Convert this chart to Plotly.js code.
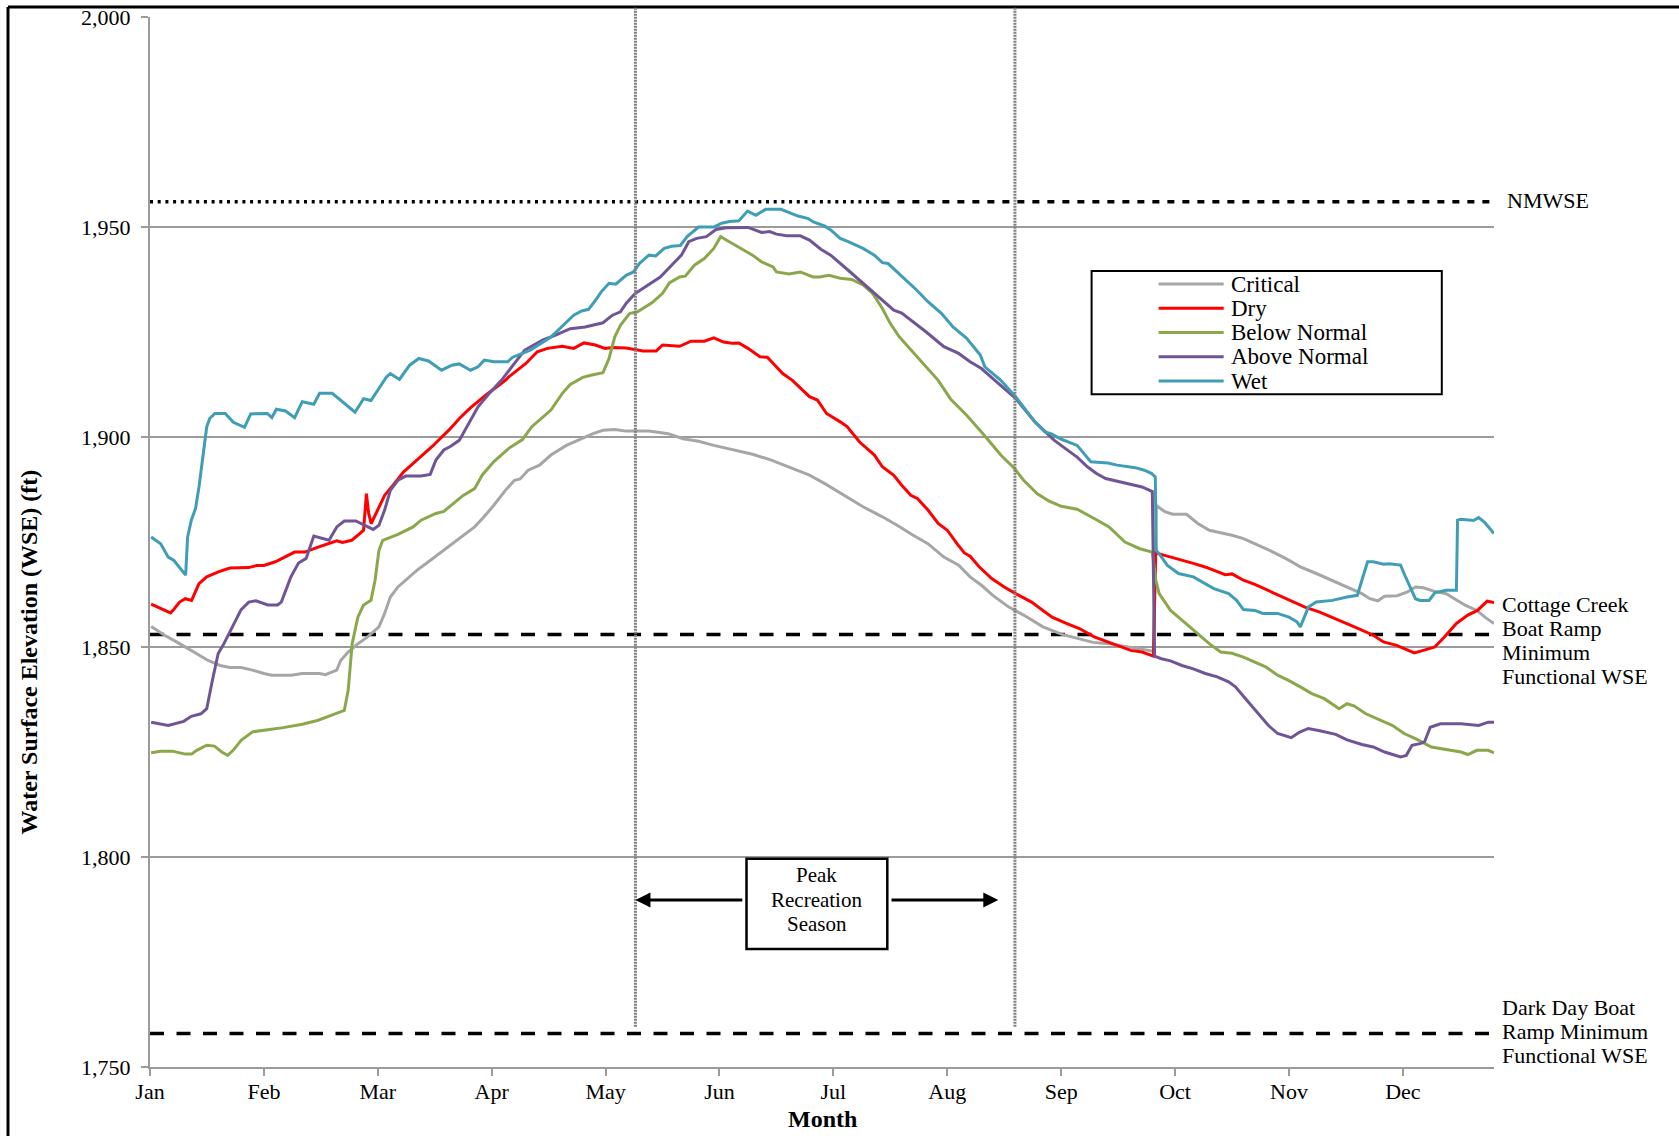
<!DOCTYPE html>
<html>
<head>
<meta charset="utf-8">
<script src="https://cdn.plot.ly/plotly-3.0.1.min.js"></script>
<style>
html,body{margin:0;padding:0;background:#ffffff;}
#chart{width:1679px;height:1136px;}
</style>
</head>
<body>
<div id="chart"></div>
<script>
// ---- Axis categories / tick labels (x = months elapsed since Jan 1) ----
const monthLabels = ['Jan','Feb','Mar','Apr','May','Jun','Jul','Aug','Sep','Oct','Nov','Dec'];
const monthTickPos = [0,1,2,3,4,5,6,7,8,9,10,11];

// ---- Series: Critical ----
const criticalX = [0.01,0.128,0.26,0.39,0.51,0.615,0.7,0.8,0.9,1.0,1.07,1.24,1.337,1.49,1.54,1.64,1.674,1.74,1.807,1.91,2.01,2.06,2.11,2.177,2.26,2.345,2.445,2.58,2.715,2.85,2.933,3.017,3.12,3.2,3.25,3.32,3.42,3.52,3.656,3.79,3.89,3.977,4.08,4.18,4.38,4.49,4.55,4.68,4.816,4.95,5.12,5.29,5.455,5.62,5.79,5.925,6.09,6.26,6.43,6.56,6.7,6.83,6.97,7.1,7.2,7.3,7.4,7.54,7.67,7.84,8.007,8.14,8.28,8.42,8.56,8.69,8.81,8.835,8.91,8.98,9.1,9.2,9.3,9.4,9.5,9.6,9.7,9.83,9.97,10.1,10.24,10.37,10.51,10.64,10.71,10.78,10.84,10.95,11.04,11.11,11.18,11.27,11.38,11.48,11.55,11.65,11.72,11.8];
const criticalY = [1854.9,1852.8,1850.8,1848.8,1846.8,1845.6,1845.1,1845.1,1844.5,1843.7,1843.3,1843.3,1843.7,1843.7,1843.4,1844.5,1846.8,1848.8,1850.4,1852.4,1854.8,1858,1861.9,1864.3,1866.3,1868.3,1870.3,1873,1875.8,1878.6,1881,1883.7,1887.3,1889.7,1890,1892.1,1893.3,1895.7,1898,1899.6,1900.8,1901.6,1901.8,1901.4,1901.4,1901,1900.8,1899.6,1899,1898,1897,1895.9,1894.5,1892.7,1890.9,1888.9,1886.1,1883.4,1881,1879,1876.6,1874.6,1871.4,1869.5,1866.7,1864.7,1862.3,1859.5,1857.6,1854.8,1853,1852,1851.1,1850.8,1850.2,1849.6,1849,1883.7,1882.2,1881.6,1881.6,1879.4,1877.8,1877.2,1876.6,1875.8,1874.6,1873,1871.1,1869.1,1867.5,1865.9,1864.3,1862.7,1861.5,1861,1862.1,1862.2,1863.1,1864.3,1864.1,1863.3,1862.7,1861.1,1859.9,1858.7,1857.1,1855.6];

// ---- Series: Dry ----
const dryX = [0.01,0.18,0.21,0.26,0.31,0.365,0.43,0.498,0.6,0.7,0.866,0.936,1.0,1.1,1.27,1.36,1.47,1.57,1.64,1.69,1.77,1.824,1.875,1.9,1.92,1.942,1.99,2.06,2.127,2.227,2.36,2.48,2.63,2.716,2.815,2.95,3.12,3.15,3.3,3.4,3.49,3.62,3.72,3.81,3.91,3.995,4.06,4.18,4.33,4.445,4.5,4.65,4.75,4.867,4.95,5.035,5.11,5.17,5.25,5.355,5.42,5.49,5.555,5.64,5.72,5.79,5.86,5.94,6.06,6.12,6.23,6.28,6.36,6.43,6.53,6.6,6.68,6.74,6.83,6.92,7.0,7.085,7.15,7.2,7.28,7.39,7.5,7.6,7.74,7.84,7.92,8.04,8.16,8.29,8.48,8.61,8.71,8.81,8.83,8.914,8.96,9.07,9.16,9.27,9.37,9.44,9.5,9.6,9.7,9.83,10.0,10.14,10.27,10.44,10.61,10.74,10.83,10.945,11.1,11.18,11.28,11.365,11.47,11.57,11.655,11.74,11.8];
const dryY = [1860.2,1858.1,1859,1860.7,1861.5,1861.1,1865.1,1866.7,1867.9,1868.8,1868.9,1869.4,1869.4,1870.3,1872.6,1872.6,1873.7,1874.6,1875.3,1874.9,1875.4,1876.6,1877.8,1886.5,1881.8,1879.4,1882.2,1886.1,1888.3,1891.7,1894.9,1897.8,1901.8,1904.4,1907,1910,1913.5,1914.3,1917.5,1920.3,1921.1,1921.6,1921.1,1922.4,1921.9,1921.1,1921.3,1921.2,1920.5,1920.5,1921.9,1921.6,1922.8,1922.8,1923.6,1922.6,1922.3,1922.4,1921.1,1919.1,1919,1917.1,1915.1,1913.5,1911.5,1909.6,1908.8,1905.6,1903.6,1902.5,1898.8,1897.6,1895.7,1892.9,1890.9,1888.5,1886.1,1885.3,1882.6,1879.4,1877.8,1874.6,1872.4,1871.6,1869.1,1866.3,1864.3,1862.7,1860.7,1858.7,1857.1,1855.7,1854.4,1852.4,1850.4,1849.2,1848.8,1847.8,1872.4,1871.8,1871.4,1870.7,1869.9,1869,1867.9,1867.2,1867.4,1865.9,1864.9,1863.3,1861.3,1859.5,1858.3,1856.4,1854.4,1852.8,1851.2,1850.4,1848.6,1849.2,1850,1852.4,1855.6,1857.6,1858.7,1860.9,1860.6];

// ---- Series: Below Normal ----
const belowNormalX = [0.01,0.094,0.195,0.31,0.365,0.41,0.498,0.566,0.63,0.682,0.73,0.8,0.9,1.035,1.17,1.337,1.47,1.59,1.706,1.74,1.775,1.825,1.875,1.94,1.976,2.01,2.043,2.177,2.31,2.38,2.51,2.58,2.665,2.75,2.85,2.916,3.017,3.15,3.27,3.35,3.52,3.62,3.69,3.8,3.87,3.977,4.03,4.08,4.13,4.21,4.28,4.41,4.5,4.56,4.65,4.7,4.78,4.867,4.95,5.01,5.086,5.19,5.29,5.37,5.47,5.5,5.61,5.71,5.82,5.88,5.96,6.06,6.16,6.26,6.345,6.43,6.5,6.58,6.68,6.8,6.92,7.03,7.17,7.3,7.47,7.59,7.67,7.79,7.89,8.0,8.14,8.29,8.42,8.56,8.69,8.8,8.83,8.86,8.96,9.06,9.2,9.3,9.4,9.5,9.6,9.7,9.8,9.9,10.0,10.1,10.2,10.31,10.37,10.44,10.51,10.57,10.675,10.78,10.91,11.01,11.11,11.25,11.38,11.51,11.57,11.65,11.75,11.8];
const belowNormalY = [1824.8,1825.2,1825.2,1824.5,1824.5,1825.4,1826.6,1826.4,1825,1824.2,1825.4,1827.8,1829.8,1830.3,1830.8,1831.6,1832.5,1833.7,1834.9,1839.7,1850.8,1857.1,1860,1861.1,1865.9,1873,1875.4,1876.8,1878.6,1880.2,1881.8,1882.3,1884.2,1886.1,1887.7,1890.9,1894.1,1897.3,1899.4,1902.4,1906.4,1910.4,1912.5,1914.2,1914.7,1915.3,1918.7,1923.8,1926.6,1929.4,1929.8,1932,1934.2,1936.7,1938.1,1938.3,1940.9,1942.5,1944.9,1947.7,1946.5,1944.9,1943.3,1941.7,1940.5,1939.3,1938.8,1939.3,1938.1,1938.1,1938.5,1937.8,1937.5,1936.2,1934.2,1930.6,1927,1923.8,1920.7,1917.1,1913.5,1909,1905.2,1901.2,1895.7,1892.5,1889.7,1886.5,1884.8,1883.5,1882.8,1880.6,1878.6,1875,1873.4,1872.6,1866,1862.7,1858.7,1856.4,1853.2,1850.8,1848.8,1848.5,1847.6,1846.4,1845.2,1843.3,1842,1840.5,1838.9,1837.7,1836.5,1835.3,1836.5,1836,1834.1,1832.9,1831.3,1829.4,1828.2,1826.2,1825.6,1825,1824.4,1825.4,1825.4,1824.8];

// ---- Series: Above Normal ----
const aboveNormalX = [0.01,0.16,0.296,0.362,0.447,0.498,0.548,0.598,0.649,0.716,0.8,0.867,0.93,1.035,1.12,1.153,1.237,1.304,1.371,1.438,1.51,1.572,1.64,1.706,1.807,1.874,1.959,2.01,2.06,2.11,2.177,2.245,2.379,2.46,2.51,2.58,2.64,2.715,2.8,2.88,2.98,3.085,3.29,3.45,3.555,3.69,3.82,3.977,4.06,4.13,4.18,4.26,4.33,4.4,4.48,4.58,4.666,4.73,4.8,4.884,4.97,5.06,5.25,5.37,5.44,5.5,5.59,5.71,5.79,5.89,5.976,6.13,6.26,6.4,6.53,6.6,6.7,6.815,6.97,7.1,7.2,7.3,7.4,7.5,7.6,7.77,7.94,8.08,8.14,8.23,8.31,8.39,8.48,8.61,8.71,8.8,8.82,8.88,8.96,9.06,9.16,9.265,9.37,9.47,9.53,9.63,9.73,9.82,9.9,10.02,10.09,10.17,10.28,10.41,10.51,10.64,10.74,10.84,10.91,10.98,11.03,11.08,11.15,11.19,11.24,11.33,11.51,11.665,11.75,11.8];
const aboveNormalY = [1832.1,1831.3,1832.3,1833.5,1834.1,1835.3,1842.1,1848.4,1850.8,1854.4,1858.9,1860.7,1861,1860,1860,1860.7,1866.7,1870,1871.1,1876.4,1875.8,1875.4,1878.6,1880,1880,1879.2,1878,1879,1882.6,1887.3,1889.7,1890.7,1890.7,1891.1,1894.5,1896.9,1897.8,1899.2,1903.2,1907.2,1910.4,1913.5,1920.7,1923.1,1924.2,1925.8,1926.2,1927.2,1929,1929.8,1931.8,1934.2,1935.4,1936.7,1938.1,1940.9,1943.3,1946.5,1947.3,1947.7,1949.4,1949.8,1949.9,1948.7,1948.9,1948.3,1947.9,1947.9,1946.9,1944.7,1943.3,1939.7,1936.6,1933.4,1930.2,1929.5,1927.4,1925,1921.5,1919.9,1917.9,1916.3,1913.9,1911.5,1909.2,1903.6,1899.2,1896.4,1895.2,1892.9,1891.3,1890.1,1889.5,1888.8,1888.1,1887,1847.8,1847.2,1846.7,1845.6,1844.8,1843.7,1842.9,1841.7,1840.5,1837.3,1834.1,1831.3,1829.4,1828.4,1829.7,1830.6,1830,1829.2,1827.9,1826.8,1826.2,1825,1824.4,1823.8,1824.2,1826.6,1827,1827.4,1830.9,1831.7,1831.7,1831.3,1832.1,1832.1];

// ---- Series: Wet ----
const wetX = [0.01,0.094,0.16,0.21,0.313,0.33,0.363,0.4,0.43,0.464,0.498,0.524,0.57,0.66,0.732,0.83,0.884,1.03,1.07,1.109,1.19,1.27,1.337,1.438,1.489,1.6,1.71,1.8,1.875,1.94,2.076,2.11,2.19,2.28,2.36,2.445,2.56,2.65,2.715,2.815,2.88,2.935,3.02,3.14,3.185,3.34,3.52,3.72,3.79,3.85,3.91,3.96,4.03,4.09,4.18,4.245,4.296,4.38,4.44,4.515,4.58,4.656,4.716,4.78,4.816,4.95,5.018,5.09,5.17,5.247,5.32,5.405,5.54,5.69,5.78,5.824,5.926,5.976,6.06,6.13,6.26,6.36,6.43,6.48,6.6,6.73,6.83,6.95,7.05,7.17,7.29,7.33,7.47,7.6,7.757,7.857,7.91,8.007,8.14,8.19,8.26,8.41,8.49,8.65,8.73,8.795,8.826,8.835,8.86,8.93,9.03,9.16,9.265,9.34,9.47,9.54,9.6,9.7,9.77,9.9,10.0,10.07,10.1,10.17,10.24,10.38,10.51,10.6,10.64,10.69,10.74,10.83,10.88,10.98,11.01,11.11,11.15,11.23,11.28,11.38,11.47,11.48,11.51,11.62,11.665,11.72,11.8];
const wetY = [1876.2,1874.6,1871.4,1870.6,1867.1,1876.2,1880.2,1883,1888.1,1895.3,1902.4,1904.4,1905.6,1905.6,1903.5,1902.3,1905.5,1905.6,1904.6,1906.6,1906.2,1904.6,1908.4,1907.8,1910.4,1910.4,1907.9,1905.9,1909.1,1908.7,1914.3,1915.1,1913.7,1917.1,1918.7,1918.1,1915.9,1917.1,1917.4,1915.9,1916.7,1918.3,1917.9,1917.9,1919,1920.7,1923.8,1929,1930,1930.4,1932.5,1934.5,1936.6,1936.4,1938.5,1939.3,1941.3,1943.3,1943.1,1944.9,1945.4,1945.6,1947.7,1949.3,1950,1950,1950.9,1951.3,1951.5,1953.8,1952.8,1954.2,1954.2,1952.6,1952,1951.2,1950.2,1949.3,1947.3,1946.5,1944.9,1943.3,1941.5,1941.3,1938.3,1935,1932.2,1929.4,1926.2,1923.5,1919.5,1916.7,1913.5,1909.6,1904,1901.2,1900.8,1899.4,1898,1896.4,1894.1,1893.8,1893.3,1892.7,1892.1,1891.3,1890.5,1873,1872.2,1869.5,1867.5,1866.7,1865.1,1863.9,1862.7,1861.1,1858.9,1858.7,1858,1858,1857.1,1856,1854.8,1859.5,1860.7,1861.1,1861.9,1862.3,1865.9,1870.3,1870.3,1869.7,1869.8,1869.5,1867.5,1861.5,1861.1,1861.1,1862.9,1863.5,1863.5,1880.2,1880.4,1880.1,1880.8,1879.6,1877];

// ---- Reference levels (ft) ----
const nmwseLevel = 1956;
const cottageCreekLevel = 1853;
const darkDayLevel = 1758;
const nmwseStyleBreak = 6.43;      // where the NMWSE line changes from dotted to dashed
const peakSeasonStart = 4.262;     // ~May 8
const peakSeasonEnd = 7.594;       // ~Aug 18

const seriesNames = ['Critical','Dry','Below Normal','Above Normal','Wet'];
const seriesColors = ['#A6A6A6','#FF0000','#8AA84B','#705596','#3F9DB6'];
const seriesX = [criticalX, dryX, belowNormalX, aboveNormalX, wetX];
const seriesY = [criticalY, dryY, belowNormalY, aboveNormalY, wetY];

const X_MAX = 11.8;
const FONT = 'Liberation Serif, Times New Roman, serif';
const GRID = '#9B9B9B';

// ---- Traces ----
const traces = [];
traces.push({x:[0, nmwseStyleBreak], y:[nmwseLevel, nmwseLevel], mode:'lines', showlegend:false, hoverinfo:'skip',
  line:{color:'#000', width:3.5, dash:'3px,4.7px'}});
traces.push({x:[nmwseStyleBreak, X_MAX], y:[nmwseLevel, nmwseLevel], mode:'lines', showlegend:false, hoverinfo:'skip',
  line:{color:'#000', width:3.5, dash:'7px,8px'}});
traces.push({x:[0, X_MAX], y:[cottageCreekLevel, cottageCreekLevel], mode:'lines', showlegend:false, hoverinfo:'skip',
  line:{color:'#000', width:3.5, dash:'14px,12.5px'}});
traces.push({x:[0, X_MAX], y:[darkDayLevel, darkDayLevel], mode:'lines', showlegend:false, hoverinfo:'skip',
  line:{color:'#000', width:3.5, dash:'14px,12.5px'}});

for (let i = 0; i < seriesNames.length; i++) {
  traces.push({
    x: seriesX[i], y: seriesY[i], name: seriesNames[i], type:'scatter', mode:'lines',
    line:{color: seriesColors[i], width:3}, showlegend:false
  });
}

// ---- Geometry helpers (paper coords) ----
const W = 1679, H = 1136, ML = 150, MR = 185, MT = 17, MB = 69;
const PW = W - ML - MR, PH = H - MT - MB;
const px = X => (X - ML) / PW;
const py = Y => (H - MB - Y) / PH;

const shapes = [];
const annotations = [];

// Outer frame (left and top edges visible)
shapes.push({type:'line', xref:'paper', yref:'paper', x0:px(8), x1:px(8), y0:py(1160), y1:py(7), line:{color:'#000', width:3}});
shapes.push({type:'line', xref:'paper', yref:'paper', x0:px(8), x1:px(1720), y0:py(7), y1:py(7), line:{color:'#000', width:3}});

// Peak recreation season boundaries
[peakSeasonStart, peakSeasonEnd].forEach(m => {
  shapes.push({type:'line', xref:'x', yref:'paper', x0:m, x1:m, y0:(1759.6-1750)/250, y1:py(7),
    line:{color:'#808080', width:3, dash:'2px,1px'}});
});

// Peak Recreation Season box
shapes.push({type:'rect', xref:'paper', yref:'paper', x0:px(746.5), x1:px(887.3), y0:py(949), y1:py(858.7),
  fillcolor:'#fff', line:{color:'#000', width:2.5}});
['Peak','Recreation','Season'].forEach((t, k) => {
  annotations.push({xref:'paper', yref:'paper', x:px(816.5), y:py(875 + k*24.5), text:t, showarrow:false,
    xanchor:'center', yanchor:'middle', font:{family:FONT, size:21, color:'#000'}});
});
const arrowY = 1750 + (H - MB - 900) / PH * 250;
annotations.push({xref:'x', yref:'y', x:peakSeasonStart, y:arrowY, axref:'x', ayref:'y', ax:(743.8-ML)/PW*X_MAX, ay:arrowY,
  text:'', showarrow:true, arrowhead:2, arrowsize:1, arrowwidth:3, arrowcolor:'#000', standoff:0, startstandoff:0});
annotations.push({xref:'x', yref:'y', x:(998.3-ML)/PW*X_MAX, y:arrowY, axref:'x', ayref:'y', ax:(890-ML)/PW*X_MAX, ay:arrowY,
  text:'', showarrow:true, arrowhead:2, arrowsize:1, arrowwidth:3, arrowcolor:'#000', standoff:0, startstandoff:0});

// Legend (box + samples + labels)
shapes.push({type:'rect', xref:'paper', yref:'paper', x0:px(1091.6), x1:px(1441.8), y0:py(394.3), y1:py(271),
  fillcolor:'#fff', line:{color:'#000', width:2}});
seriesNames.forEach((n, i) => {
  const yy = py(284 + i*24.25);
  shapes.push({type:'line', xref:'paper', yref:'paper', x0:px(1158.6), x1:px(1223.7), y0:yy, y1:yy,
    line:{color:seriesColors[i], width:3}});
  annotations.push({xref:'paper', yref:'paper', x:px(1228.5), y:yy, text:n, showarrow:false,
    xanchor:'left', yanchor:'middle', font:{family:FONT, size:23, color:'#000'}});
});

// Right-hand reference labels
const valAt = Y => 1750 + (H - MB - Y) / PH * 250;
annotations.push({xref:'paper', yref:'y', x:px(1505), y:valAt(200), text:'NMWSE', showarrow:false,
  xanchor:'left', yanchor:'middle', font:{family:FONT, size:22, color:'#000'}});
['Cottage Creek','Boat Ramp','Minimum','Functional WSE'].forEach((t, k) => {
  annotations.push({xref:'paper', yref:'y', x:px(1500), y:valAt(604 + k*24), text:t, showarrow:false,
    xanchor:'left', yanchor:'middle', font:{family:FONT, size:22, color:'#000'}});
});
['Dark Day Boat','Ramp Minimum','Functional WSE'].forEach((t, k) => {
  annotations.push({xref:'paper', yref:'y', x:px(1500), y:valAt(1007.5 + k*24.2), text:t, showarrow:false,
    xanchor:'left', yanchor:'middle', font:{family:FONT, size:22, color:'#000'}});
});

// Axis titles
annotations.push({xref:'paper', yref:'paper', x:px(28), y:py(652.5), text:'<b>Water Surface Elevation (WSE) (ft)</b>',
  textangle:-90, showarrow:false, xanchor:'center', yanchor:'middle', font:{family:FONT, size:24, color:'#000'}});
annotations.push({xref:'paper', yref:'paper', x:0.5, y:py(1119), text:'<b>Month</b>',
  showarrow:false, xanchor:'center', yanchor:'middle', font:{family:FONT, size:24, color:'#000'}});

const layout = {
  width: W, height: H,
  margin: {l:ML, r:MR, t:MT, b:MB, pad:0},
  paper_bgcolor:'#fff', plot_bgcolor:'#fff',
  showlegend:false,
  font:{family:FONT, color:'#000'},
  xaxis:{
    range:[0, X_MAX], tickmode:'array', tickvals:monthTickPos, ticktext:monthLabels,
    showgrid:false, zeroline:false, showline:true, linecolor:GRID, linewidth:2,
    ticks:'outside', ticklen:7, tickwidth:2, tickcolor:GRID, ticklabelstandoff:-3,
    tickfont:{family:FONT, size:22, color:'#000'}, fixedrange:true
  },
  yaxis:{
    range:[1750, 2000], tickmode:'linear', tick0:1750, dtick:50, tickformat:',d',
    showgrid:true, gridcolor:GRID, gridwidth:1.6, zeroline:false,
    showline:true, linecolor:GRID, linewidth:2,
    ticks:'outside', ticklen:7, tickwidth:2, tickcolor:GRID, ticklabelstandoff:6,
    tickfont:{family:FONT, size:22, color:'#000'}, fixedrange:true
  },
  shapes: shapes,
  annotations: annotations
};

Plotly.newPlot('chart', traces, layout, {displayModeBar:false, staticPlot:true});
</script>
</body>
</html>
